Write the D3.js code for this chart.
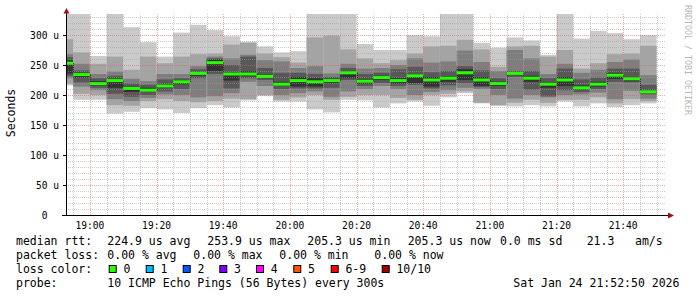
<!DOCTYPE html>
<html lang="en">
<head>
<meta charset="UTF-8">
<title>SmokePing median rtt</title>
<script src="https://d3js.org/d3.v7.min.js"></script>
<style>
  body { margin: 0; background: #fff; }
  svg text { font-family: "DejaVu Sans Mono", monospace; white-space: pre; fill: #000; }
</style>
</head>
<body>
<svg id="chart" width="697" height="297"></svg>
<script>
// end time of each 5 minute bin (the first one is cut by the graph start)
const binEnds = ["18:55", "19:00", "19:05", "19:10", "19:15", "19:20", "19:25", "19:30", "19:35",
  "19:40", "19:45", "19:50", "19:55", "20:00", "20:05", "20:10", "20:15", "20:20",
  "20:25", "20:30", "20:35", "20:40", "20:45", "20:50", "20:55", "21:00", "21:05",
  "21:10", "21:15", "21:20", "21:25", "21:30", "21:35", "21:40", "21:45", "21:50"];

// the 10 sorted ping times of each bin, in microseconds
const pings = [
  [216, 219, 228, 232, 236, 258, 263, 268, 293, 335],
  [192, 202, 214, 221, 229, 237, 241, 252, 271, 335],
  [192, 200, 208, 212, 216, 223, 228, 235, 252, 265],
  [169, 183, 193, 202, 212, 227, 232, 239, 264, 335],
  [172, 182, 190, 197, 205, 214, 219, 227, 242, 313],
  [178, 190, 195, 200, 205, 212, 217, 223, 264, 288],
  [176, 193, 201, 206, 212, 218, 226, 235, 253, 264],
  [170, 190, 200, 210, 218, 225, 228, 235, 264, 304],
  [178, 188, 196, 228, 232, 238, 243, 248, 268, 317],
  [183, 190, 198, 235, 240, 259, 261, 264, 269, 308],
  [179, 194, 203, 211, 224, 238, 250, 261, 284, 298],
  [191, 193, 222, 228, 231, 240, 264, 267, 287, 289],
  [198, 200, 215, 225, 228, 234, 245, 258, 269, 281],
  [189, 192, 200, 210, 215, 222, 237, 256, 263, 271],
  [189, 196, 203, 211, 214, 230, 237, 245, 254, 273],
  [176, 200, 206, 211, 214, 228, 235, 248, 296, 335],
  [171, 192, 197, 212, 220, 227, 230, 236, 299, 335],
  [192, 197, 206, 225, 228, 240, 245, 252, 276, 335],
  [191, 200, 210, 215, 219, 227, 235, 244, 261, 285],
  [179, 200, 215, 220, 225, 232, 237, 245, 253, 275],
  [186, 195, 210, 215, 219, 228, 243, 250, 258, 275],
  [189, 192, 200, 217, 220, 235, 247, 261, 269, 300],
  [182, 200, 205, 211, 214, 230, 238, 254, 281, 298],
  [196, 202, 208, 216, 222, 231, 240, 256, 282, 335],
  [203, 206, 212, 220, 225, 243, 248, 274, 292, 335],
  [186, 187, 210, 213, 215, 230, 241, 255, 276, 287],
  [182, 183, 200, 210, 215, 222, 228, 240, 247, 279],
  [181, 187, 194, 230, 233, 238, 240, 275, 281, 296],
  [183, 192, 200, 209, 222, 232, 240, 261, 282, 291],
  [181, 187, 196, 198, 212, 221, 228, 235, 264, 267],
  [189, 192, 200, 208, 215, 230, 244, 252, 275, 335],
  [181, 192, 201, 205, 209, 216, 226, 237, 244, 294],
  [186, 196, 204, 210, 214, 222, 229, 242, 253, 307],
  [180, 186, 193, 222, 227, 237, 244, 255, 268, 303],
  [183, 193, 207, 221, 223, 230, 244, 259, 269, 293],
  [186, 190, 194, 201, 203, 208, 217, 233, 282, 300]
];

// median rtt of each bin
const medians = [253, 234, 219, 224, 211, 208, 215, 222, 236, 253.9, 235, 235, 231, 218,
  224, 222, 224, 237, 223, 229, 224, 232, 225, 228, 237, 225, 219, 236, 228, 218,
  225, 212, 218, 233, 227, 205.3];

const yTicks = [0, 50, 100, 150, 200, 250, 300];
const yTickLabels = ["0", "50 u", "100 u", "150 u", "200 u", "250 u", "300 u"];

const rttStats = ["224.9 us avg", "253.9 us max", "205.3 us min", "205.3 us now", "0.0 ms sd", "21.3", "am/s"];
const lossStats = ["0.00 % avg", "0.00 % max", "0.00 % min", "0.00 % now"];
const lossLabels = ["0", "1", "2", "3", "4", "5", "6-9", "10/10"];
const lossColors = ["#26ff00", "#00b8ff", "#0059ff", "#7e00ff", "#ff00ff", "#ff5500", "#ff0000", "#a00000"];
const probeText = "10 ICMP Echo Pings (56 Bytes) every 300s";
const stampText = "Sat Jan 24 21:52:50 2026";

// smoke shades, outer pair first
const smokeColors = ["#cacaca", "#a4a4a4", "#7e7e7e", "#585858", "#323232"];

const svg = d3.select("#chart");
const day = (h, m, s) => new Date(2026, 0, 24, h, m, s || 0);
const parseEnd = s => day(+s.slice(0, 2), +s.slice(3, 5));

const t0 = day(18, 52, 50), t1 = day(21, 52, 50);
const x = d3.scaleTime().domain([t0, t1]).range([66, 666]);
const y = d3.scaleLinear().domain([0, 335]).range([215, 14]);

const bins = binEnds.map((e, i) => {
  const end = parseEnd(e);
  const start = new Date(Math.max(+end - 300000, +t0));
  return { start, end, p: pings[i], med: medians[i] };
});

svg.append("defs").append("clipPath").attr("id", "plot")
  .append("rect").attr("x", 66).attr("y", 14).attr("width", 600).attr("height", 201);

// smoke
const smoke = svg.append("g").attr("clip-path", "url(#plot)");
bins.forEach(b => {
  smokeColors.forEach((c, k) => {
    smoke.append("rect")
      .attr("x", x(b.start))
      .attr("width", x(b.end) - x(b.start))
      .attr("y", y(b.p[9 - k]))
      .attr("height", y(b.p[k]) - y(b.p[9 - k]))
      .attr("fill", c);
  });
});

// grid on top of the smoke
const grid = svg.append("g").attr("stroke-dasharray", "1,1").attr("shape-rendering", "crispEdges");
const minorT = d3.timeMinute.every(5).range(t0, t1).filter(t => t.getMinutes() % 20 !== 0);
const majorT = d3.timeMinute.every(20).range(t0, t1);
grid.selectAll(".vmin").data(minorT).enter().append("line")
  .attr("x1", d => Math.round(x(d)) + 0.5).attr("x2", d => Math.round(x(d)) + 0.5)
  .attr("y1", 14).attr("y2", 215)
  .attr("stroke", "#a0a0a0").attr("stroke-opacity", 0.5);
const minorY = d3.range(10, 335, 10).filter(v => v % 50 !== 0);
grid.selectAll(".hmin").data(minorY).enter().append("line")
  .attr("x1", 66).attr("x2", 666)
  .attr("y1", d => Math.round(y(d)) + 0.5).attr("y2", d => Math.round(y(d)) + 0.5)
  .attr("stroke", "#a0a0a0").attr("stroke-opacity", 0.5);
grid.selectAll(".vmaj").data(majorT).enter().append("line")
  .attr("x1", d => Math.round(x(d)) + 0.5).attr("x2", d => Math.round(x(d)) + 0.5)
  .attr("y1", 14).attr("y2", 215)
  .attr("stroke", "#e06060").attr("stroke-opacity", 0.55);
grid.selectAll(".hmaj").data(yTicks.slice(1)).enter().append("line")
  .attr("x1", 66).attr("x2", 666)
  .attr("y1", d => Math.round(y(d)) + 0.5).attr("y2", d => Math.round(y(d)) + 0.5)
  .attr("stroke", "#e06060").attr("stroke-opacity", 0.55);

// median: dark dotted steps, then the loss coloured line
const med = svg.append("g");
bins.slice(1).forEach((b, i) => {
  const prev = bins[i];
  med.append("line")
    .attr("x1", Math.round(x(b.start)) + 0.5).attr("x2", Math.round(x(b.start)) + 0.5)
    .attr("y1", y(prev.med)).attr("y2", y(b.med))
    .attr("stroke", "#202020").attr("stroke-dasharray", "1,1");
});
med.selectAll(".m").data(bins).enter().append("line")
  .attr("x1", d => x(d.start)).attr("x2", d => x(d.end))
  .attr("y1", d => y(d.med)).attr("y2", d => y(d.med))
  .attr("stroke", lossColors[0]).attr("stroke-width", 3);

// axes
const ax = svg.append("g").attr("shape-rendering", "crispEdges");
ax.append("line").attr("x1", 66.5).attr("x2", 66.5).attr("y1", 215).attr("y2", 12).attr("stroke", "#000");
ax.append("line").attr("x1", 62).attr("x2", 669).attr("y1", 215.5).attr("y2", 215.5).attr("stroke", "#000");
ax.selectAll(".yt").data(yTicks.slice(1)).enter().append("line")
  .attr("x1", 63).attr("x2", 66)
  .attr("y1", d => Math.round(y(d)) + 0.5).attr("y2", d => Math.round(y(d)) + 0.5)
  .attr("stroke", "#000");
svg.append("path").attr("d", "M63.5,13.5 L66.5,8 L69.5,13.5 Z").attr("fill", "#a01010");
svg.append("path").attr("d", "M668,212.5 L674,215.5 L668,218.5 Z").attr("fill", "#a01010");

// tick labels
svg.selectAll(".ylab").data(yTicks).enter().append("text")
  .attr("x", d => d === 0 ? 44.7 : 59)
  .attr("y", d => y(d) + 3.5)
  .attr("text-anchor", d => d === 0 ? "middle" : "end")
  .attr("font-size", "9.6px")
  .text((d, i) => yTickLabels[i]);
svg.selectAll(".xlab").data(majorT).enter().append("text")
  .attr("x", d => x(d))
  .attr("y", 228.5)
  .attr("text-anchor", "middle")
  .attr("font-size", "9.6px")
  .text(d3.timeFormat("%H:%M"));

svg.append("text")
  .attr("transform", "translate(15,113) rotate(-90)")
  .attr("text-anchor", "middle")
  .attr("font-size", "11.5px")
  .text("Seconds");

svg.append("text")
  .attr("transform", "translate(685,5) rotate(90)")
  .attr("font-size", "8.3px")
  .style("fill", "#b8b8b8")
  .text("RRDTOOL / TOBI OETIKER");

// legend
const lg = svg.append("g").attr("font-size", "11.5px");
const row = (yy, items) => items.forEach(([xx, t]) =>
  lg.append("text").attr("x", xx).attr("y", yy).text(t));
row(245, [[16, "median rtt:"], [107.3, rttStats[0]], [207.3, rttStats[1]], [307.3, rttStats[2]],
  [407.7, rttStats[3]], [500, rttStats[4]], [586.7, rttStats[5]], [635, rttStats[6]]]);
row(259, [[16, "packet loss:"], [107.3, lossStats[0]], [193.3, lossStats[1]], [279.3, lossStats[2]], [374.3, lossStats[3]]]);
row(273, [[16, "loss color:"]]);
const swatchX = [108.7, 145.7, 182.7, 219.3, 256, 293.3, 330.7, 381.7];
lossLabels.forEach((l, i) => {
  lg.append("rect").attr("x", swatchX[i] + 0.5).attr("y", 265.5).attr("width", 7).attr("height", 7)
    .attr("fill", lossColors[i]).attr("stroke", "#000").attr("stroke-width", 1);
  lg.append("text").attr("x", swatchX[i] + 14.7).attr("y", 273).text(l);
});
row(287, [[16, "probe:"], [107.3, probeText], [513.3, stampText]]);
</script>
</body>
</html>
